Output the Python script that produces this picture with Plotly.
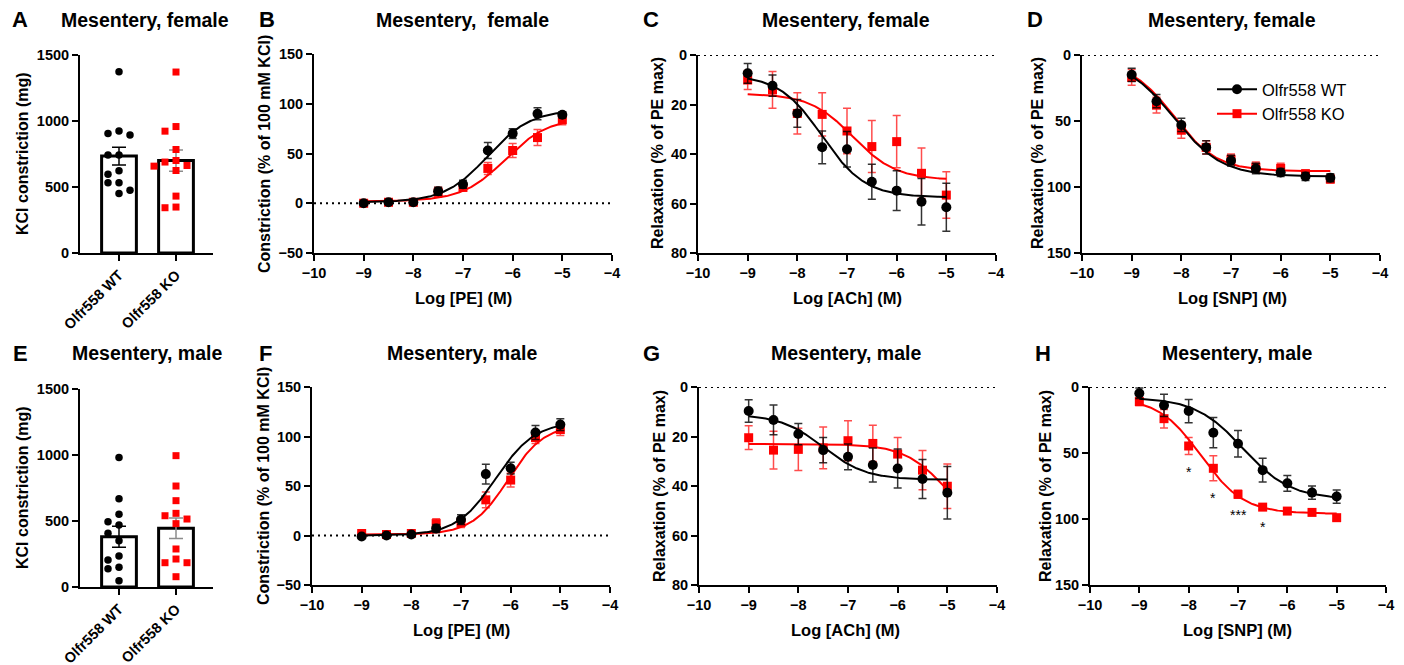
import numpy as np
import plotly.graph_objects as go

W, H = 1404, 665
OFF = 8  # page body margin in the browser
FONT = "Liberation Sans"

# ---------------- data ----------------
groups = ["Olfr558 WT", "Olfr558 KO"]
conc = [-9, -8.5, -8, -7.5, -7, -6.5, -6, -5.5, -5]

# A: KCl, female (mg)
a_wt_points = [1374, 906, 893, 924, 742, 742, 597, 623, 532, 532, 451, 476]
a_ko_points = [1371, 958, 923, 784, 701, 689, 663, 658, 625, 431, 343, 348]
a_mean = [734, 700]
a_sem = [67, 80]

# E: KCl, male (mg)
e_wt_points = [982, 669, 551, 470, 495, 407, 351, 235, 205, 149, 139, 48]
e_ko_points = [995, 765, 654, 540, 558, 515, 480, 288, 212, 184, 184, 78]
e_mean = [381, 445]
e_sem = [80, 78]

# B: PE female (% of 100 mM KCl)
b_wt = [0, 1, 1, 12, 19, 53, 70, 90, 89]
b_wt_err = [1, 1, 1, 4, 4, 8, 5, 6, 3]
b_ko = [0, 1, 1, 11, 16, 35, 53, 66, 84]
b_ko_err = [1, 1, 1, 5, 4, 6, 7, 8, 5]

# C: ACh female (% of PE max)
c_wt = [7.4, 12.4, 23.6, 37.3, 38.1, 51.2, 54.8, 59.3, 61.5]
c_wt_err = [4, 4.3, 5.6, 6.6, 7.2, 7.1, 8, 9.4, 9.7]
c_ko = [10.1, 14.1, 23.6, 24, 30.7, 37, 35, 47.8, 56.6]
c_ko_err = [3.8, 7.4, 8.3, 8.7, 9.2, 10.5, 10.6, 10.2, 9.4]

# D: SNP female (% of PE max)
d_wt = [15, 35, 53, 70, 80, 86, 89, 92, 93]
d_wt_err = [5, 5, 5, 5, 4, 4, 3, 3, 3]
d_ko = [17, 38, 57, 70, 79, 85, 86, 90, 94]
d_ko_err = [6, 6, 6, 5, 4, 4, 4, 3, 3]

# F: PE male (% of 100 mM KCl)
f_wt = [-1, 0, 1, 7, 16, 62, 68, 104, 112]
f_wt_err = [1, 1, 1, 4, 5, 10, 6, 7, 6]
f_ko = [2, 1, 2, 12, 13, 36, 56, 99, 107]
f_ko_err = [1, 1, 1, 5, 5, 8, 7, 6, 6]

# G: ACh male (% of PE max)
g_wt = [9.7, 13.3, 19, 25.5, 28.2, 31.5, 32.9, 37.2, 42.7]
g_wt_err = [4.5, 6, 4.3, 5.1, 5.2, 6.9, 7.9, 7.9, 10.6]
g_ko = [20.5, 25.5, 25.2, 24.6, 21.7, 22.8, 27.1, 33.6, 40.1]
g_ko_err = [4.8, 7.6, 8.5, 8.4, 8.1, 7.3, 6.7, 7.9, 9]

# H: SNP male (% of PE max)
h_wt = [4.8, 13.9, 18.2, 34.6, 43, 63, 73, 80, 83]
h_wt_err = [4, 8.5, 8.8, 11.4, 10, 9, 6, 5, 5]
h_ko = [11.1, 24, 44.7, 61.6, 81.3, 91, 94, 95, 99]
h_ko_err = [3, 7, 6.5, 9.5, 3, 2, 2, 2, 2]
h_sig_conc = [-8, -7.5, -7, -6.5]
h_sig_text = ["*", "*", "***", "*"]

# 4-parameter fits: bottom, top, logEC50, hill
fit_b_wt = [1, 94, -6.5, 1.0]
fit_b_ko = [2, 86, -6.15, 1.0]
fit_c_wt = [8, 57.5, -7.5, 1.0]
fit_c_ko = [15.6, 50.5, -6.88, 1.0]
fit_d_wt = [3, 92, -8.15, 0.9]
fit_d_ko = [5, 88, -8.15, 1.0]
fit_f_wt = [0, 115, -6.3, 1.1]
fit_f_ko = [1, 112, -6.05, 1.2]
fit_g_wt = [11, 37.5, -7.5, 1.0]
fit_g_ko = [23, 60, -5.0, 1.0]
fit_h_wt = [8, 85, -6.9, 0.9]
fit_h_ko = [8, 96, -7.75, 1.0]

# ---------------- layout helpers ----------------
BLACK = "black"
RED = "#ff0000"
WT_ERR = "rgba(0,0,0,0.8)"
KO_ERR = "rgba(255,0,0,0.7)"

fig = go.Figure()


def px(x):
    return (x - OFF) / W


def py(y):
    return 1 - (y - OFF) / H


def dom(x0, x1, y0, y1):
    return [px(x0), px(x1)], [py(y1), py(y0)]


tickfont = dict(family=FONT, size=14.5, color="black", weight="bold")
axis_common = dict(showline=True, linecolor="black", linewidth=2, ticks="outside",
                   ticklen=6, tickwidth=2, tickcolor="black", showgrid=False,
                   zeroline=False, tickfont=tickfont, fixedrange=True, automargin=False)

# panel pixel boxes (screen coords): x0, x1, y0, y1
boxes = {
    1: (80, 213, 55, 253),
    2: (314, 612, 54, 253),
    3: (698, 996, 55, 253),
    4: (1082, 1380, 55, 253),
    5: (80, 213, 389, 587),
    6: (312, 610, 387, 585),
    7: (699, 997, 387, 585),
    8: (1090, 1386, 387, 585),
}


def set_axes(n, xkw, ykw):
    xd, yd = dom(*boxes[n])
    xk = "xaxis" if n == 1 else f"xaxis{n}"
    yk = "yaxis" if n == 1 else f"yaxis{n}"
    xa = dict(axis_common, domain=xd, anchor=f"y{'' if n == 1 else n}", **xkw)
    ya = dict(axis_common, domain=yd, anchor=f"x{'' if n == 1 else n}", **ykw)
    fig.update_layout(**{xk: xa, yk: ya})


def ax(n):
    return ("x" if n == 1 else f"x{n}"), ("y" if n == 1 else f"y{n}")


def swarm(vals, px_per_unit_y, px_per_cat, step_px=11, min_d=8.5):
    order = np.argsort(-np.array(vals, dtype=float), kind="stable")
    placed = []
    offs = [0.0] * len(vals)
    for i in order:
        yv = vals[i] * px_per_unit_y
        dx = 0
        for k in [0, -1, 1, -2, 2, -3, 3]:
            dx = k * step_px
            if all(np.hypot(dx - qx, yv - qy) >= min_d for qx, qy in placed):
                break
        placed.append((dx, yv))
        offs[i] = dx / px_per_cat
    return offs


def bar_panel(n, wt_pts, ko_pts, means, sems):
    xa, ya = ax(n)
    x0, x1, y0, y1 = boxes[n]
    ppy = (y1 - y0) / 1500.0
    ppc = 57.0
    for i, (col, ecol) in enumerate([(BLACK, "black"), (RED, "#8c8c8c")]):
        fig.add_trace(go.Bar(x=[i], y=[means[i]], width=0.61, xaxis=xa, yaxis=ya,
                             marker=dict(color="white", line=dict(color="black", width=3)),
                             error_y=dict(type="data", array=[sems[i]], color=ecol,
                                          thickness=1.5, width=7),
                             showlegend=False, hoverinfo="skip"))
    for i, (pts, col, sym) in enumerate([(wt_pts, BLACK, "circle"), (ko_pts, RED, "square")]):
        offs = swarm(pts, ppy, ppc)
        fig.add_trace(go.Scatter(x=[i + o for o in offs], y=pts, mode="markers",
                                 xaxis=xa, yaxis=ya, showlegend=False,
                                 marker=dict(color=col, symbol=sym, size=7.5 if sym == "circle" else 7,
                                             line=dict(width=0))))
    left = -(119 - x0) / ppc
    right = 1 + (x1 - 176) / ppc
    set_axes(n,
             dict(range=[left, right], tickvals=[0, 1], ticktext=groups, tickangle=-45),
             dict(range=[0, 1500], tickvals=[0, 500, 1000, 1500]))


def logistic(p, xs):
    b, t, ec, h = p
    xs = np.asarray(xs)
    return b + (t - b) / (1 + 10 ** ((ec - xs) * h))


def curve_panel(n, wt, wt_err, ko, ko_err, fwt, fko, yrange, yticks):
    xa, ya = ax(n)
    fig.add_trace(go.Scatter(x=[-10, -4], y=[0, 0], mode="lines", xaxis=xa, yaxis=ya,
                             line=dict(color="black", width=2, dash="2px,4px"),
                             showlegend=False, hoverinfo="skip"))
    xs = np.linspace(conc[0], conc[-1], 200)
    for vals, err, fit, col, ecol, sym, size, name in [
        (ko, ko_err, fko, RED, KO_ERR, "square", 9, groups[1]),
        (wt, wt_err, fwt, BLACK, WT_ERR, "circle", 10, groups[0]),
    ]:
        fig.add_trace(go.Scatter(x=xs, y=logistic(fit, xs), mode="lines", xaxis=xa, yaxis=ya,
                                 line=dict(color=col, width=2), showlegend=False,
                                 hoverinfo="skip"))
        fig.add_trace(go.Scatter(x=conc, y=vals, mode="markers", xaxis=xa, yaxis=ya,
                                 marker=dict(color=col, symbol=sym, size=size, line=dict(width=0)),
                                 error_y=dict(type="data", array=err, color=ecol,
                                              thickness=1.5, width=4),
                                 showlegend=False, name=name))
    set_axes(n,
             dict(range=[-10, -4], tickvals=[-10, -9, -8, -7, -6, -5, -4]),
             dict(range=yrange, tickvals=yticks))


bar_panel(1, a_wt_points, a_ko_points, a_mean, a_sem)
curve_panel(2, b_wt, b_wt_err, b_ko, b_ko_err, fit_b_wt, fit_b_ko, [-50, 150], [-50, 0, 50, 100, 150])
curve_panel(3, c_wt, c_wt_err, c_ko, c_ko_err, fit_c_wt, fit_c_ko, [80, 0], [0, 20, 40, 60, 80])
curve_panel(4, d_wt, d_wt_err, d_ko, d_ko_err, fit_d_wt, fit_d_ko, [150, 0], [0, 50, 100, 150])
bar_panel(5, e_wt_points, e_ko_points, e_mean, e_sem)
curve_panel(6, f_wt, f_wt_err, f_ko, f_ko_err, fit_f_wt, fit_f_ko, [-50, 150], [-50, 0, 50, 100, 150])
curve_panel(7, g_wt, g_wt_err, g_ko, g_ko_err, fit_g_wt, fit_g_ko, [80, 0], [0, 20, 40, 60, 80])
curve_panel(8, h_wt, h_wt_err, h_ko, h_ko_err, fit_h_wt, fit_h_ko, [150, 0], [0, 50, 100, 150])

# legend traces (panel D)
for name, col, sym, size in [(groups[0], BLACK, "circle", 10), (groups[1], RED, "square", 9)]:
    fig.add_trace(go.Scatter(x=[None], y=[None], mode="lines+markers", name=name,
                             xaxis="x4", yaxis="y4",
                             line=dict(color=col, width=2),
                             marker=dict(color=col, symbol=sym, size=size)))

annotations = []


def ann(text, x, y, size, bold=True, angle=0, xanchor="center", yanchor="middle"):
    annotations.append(dict(text=text, x=px(x), y=py(y), xref="paper", yref="paper",
                            showarrow=False, textangle=angle, xanchor=xanchor, yanchor=yanchor,
                            font=dict(family=FONT, size=size, color="black",
                                      weight="bold" if bold else "normal")))


# panel letters
for letter, x, y in [("A", 20, 20), ("B", 267, 20), ("C", 651, 20), ("D", 1035, 20),
                     ("E", 20, 353), ("F", 265, 353), ("G", 651, 353), ("H", 1043, 353)]:
    ann(letter, x, y, 22)

# panel titles
for t, x, y in [("Mesentery, female", 145, 20), ("Mesentery,  female", 462, 20),
                ("Mesentery, female", 846, 20), ("Mesentery, female", 1232, 20),
                ("Mesentery, male", 147, 353), ("Mesentery, male", 462, 353),
                ("Mesentery, male", 846, 353), ("Mesentery, male", 1237, 353)]:
    ann(t, x, y, 19.5)

# y axis titles
for t, x, y in [("KCl constriction (mg)", 22, 154), ("Constriction (% of 100 mM KCl)", 264, 154),
                ("Relaxation (% of PE max)", 657, 153), ("Relaxation (% of PE max)", 1037, 153),
                ("KCl constriction (mg)", 22, 488), ("Constriction (% of 100 mM KCl)", 263, 486),
                ("Relaxation (% of PE max)", 659, 486), ("Relaxation (% of PE max)", 1045, 486)]:
    ann(t, x, y, 16, angle=-90)

# x axis titles
for t, x, y in [("Log [PE] (M)", 463, 298), ("Log [ACh] (M)", 847, 298), ("Log [SNP] (M)", 1232, 298),
                ("Log [PE] (M)", 461, 630), ("Log [ACh] (M)", 846, 630), ("Log [SNP] (M)", 1237, 630)]:
    ann(t, x, y, 16.5)

# significance stars in H
for c, t in zip(h_sig_conc, h_sig_text):
    i = conc.index(c)
    annotations.append(dict(text=t, x=c, y=h_ko[i] + h_ko_err[i], xref="x8", yref="y8",
                            showarrow=False, yanchor="middle", yshift=-17,
                            font=dict(family=FONT, size=14, color="black")))

fig.update_layout(
    width=W, height=H, margin=dict(l=0, r=0, t=0, b=0, autoexpand=False),
    paper_bgcolor="white", plot_bgcolor="white",
    showlegend=True, barmode="overlay",
    legend=dict(x=px(1212), y=py(72), xanchor="left", yanchor="top",
                bgcolor="rgba(0,0,0,0)", font=dict(family=FONT, size=16.5, color="black"),
                itemwidth=40, tracegroupgap=2),
    annotations=annotations,
)

fig.write_html("out.html")
